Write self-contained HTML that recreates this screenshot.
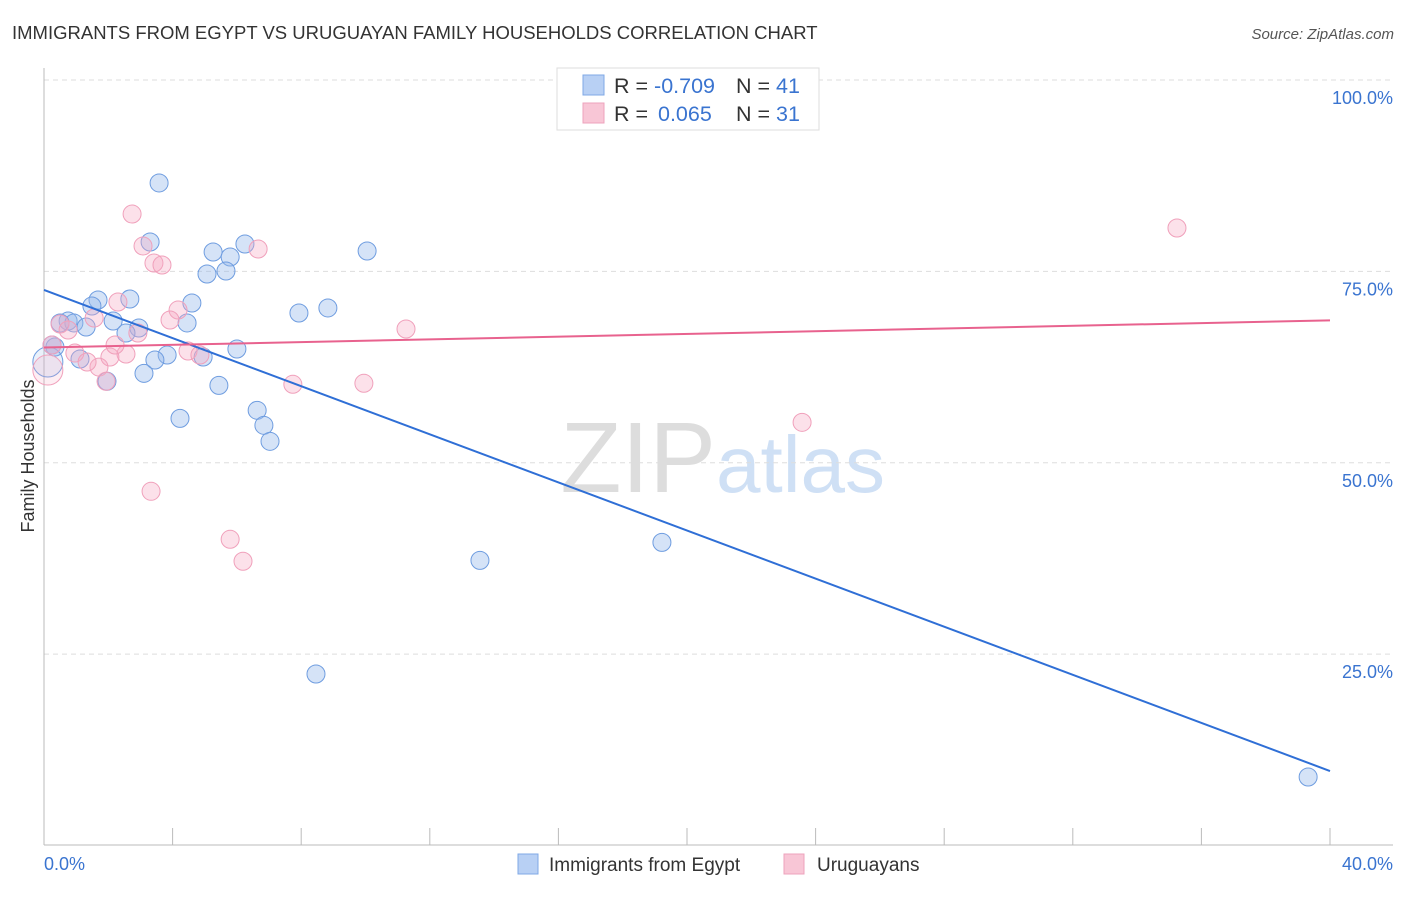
<!DOCTYPE html>
<html><head><meta charset="utf-8"><style>
body{margin:0;background:#fff;font-family:"Liberation Sans",sans-serif}
svg text{font-family:"Liberation Sans",sans-serif}
</style></head><body>
<svg id="c" width="1406" height="892">
<text x="12" y="39" font-size="18.5" fill="#333">IMMIGRANTS FROM EGYPT VS URUGUAYAN FAMILY HOUSEHOLDS CORRELATION CHART</text>
<text x="1394" y="39" font-size="15" fill="#555" text-anchor="end" font-style="italic">Source: ZipAtlas.com</text>
<text x="716" y="492" font-size="100" fill="#ddd" text-anchor="end" font-family="Liberation Serif">ZIP</text>
<text x="716" y="492" font-size="80" fill="#cfe0f5">atlas</text>
<g id="grid"></g><g id="axes"></g><g id="marks"></g><g id="trend"></g>
<text transform="translate(34,456) rotate(-90)" font-size="18" fill="#333" text-anchor="middle">Family Households</text>
<g>
<rect x="557" y="68" width="262" height="62" fill="#fff" stroke="#ddd"/>
<rect x="583" y="75" width="21" height="20" fill="#b8d0f4" stroke="#7fa8e6"/>
<rect x="583" y="103" width="21" height="20" fill="#f8c6d6" stroke="#eea3bc"/>
<text x="614" y="93" font-size="21.5" fill="#333">R = <tspan fill="#3a74d0">-0.709</tspan><tspan x="736">N = </tspan><tspan fill="#3a74d0">41</tspan></text>
<text x="614" y="121" font-size="21.5" fill="#333">R = <tspan x="658" fill="#3a74d0">0.065</tspan><tspan x="736">N = </tspan><tspan fill="#3a74d0">31</tspan></text>
</g>
<g>
<rect x="518" y="854" width="20" height="20" fill="#b8d0f4" stroke="#7fa8e6"/>
<text x="549" y="871" font-size="19" fill="#333">Immigrants from Egypt</text>
<rect x="784" y="854" width="20" height="20" fill="#f8c6d6" stroke="#eea3bc"/>
<text x="817" y="871" font-size="19" fill="#333">Uruguayans</text>
</g>
</svg>
<script>
const blueX=[3.58,3.30,5.26,6.25,5.79,5.07,5.66,10.05,1.68,2.67,1.49,4.60,7.93,8.83,0.75,0.93,2.15,4.45,1.31,2.95,2.55,0.34,1.12,4.95,3.83,3.45,6.00,3.11,1.96,5.44,4.23,6.63,6.84,7.03,13.56,19.22,8.46,39.32,0.12,0.50,0.25];
const blueY=[86.55,78.84,77.53,78.58,76.88,74.66,75.05,77.66,71.26,71.39,70.48,70.87,69.56,70.22,68.52,68.26,68.52,68.26,67.73,67.60,66.95,65.12,63.55,63.81,64.07,63.42,64.86,61.68,60.64,60.11,55.80,56.85,54.89,52.80,37.25,39.60,22.40,8.95,63.16,68.26,65.38];
const pinkX=[2.74,3.08,3.42,3.67,6.66,35.24,2.30,4.17,1.56,0.50,0.75,2.92,11.26,0.96,0.25,4.48,2.55,2.05,1.71,1.34,1.93,7.74,9.95,23.58,3.33,5.79,6.19,0.12,4.85,3.92,2.21];
const pinkY=[82.49,78.31,76.09,75.83,77.92,80.67,71.00,69.95,68.91,68.12,67.34,66.95,67.47,64.33,65.38,64.60,64.20,63.81,62.50,63.16,60.64,60.25,60.38,55.28,46.27,40.00,37.13,62.11,64.07,68.65,65.38];
const blueTrend=[72.57,9.73];
const pinkTrend=[65.05,68.6];
const yTicks=[25,50,75,100];
const xTickLabels=["0.0%","40.0%"];
const NS="http://www.w3.org/2000/svg";
const X=v=>44+v/40*1286, Y=v=>845.5-v/100*765.5;
function mk(p,t,a){const e=document.createElementNS(NS,t);for(const k in a)e.setAttribute(k,a[k]);document.getElementById(p).appendChild(e);return e;}
yTicks.forEach(t=>{
 const l=mk('grid','line',{x1:44,x2:1393,y1:Y(t),y2:Y(t),stroke:'#ddd','stroke-dasharray':'5,4'});
 
 
 const tx=mk('grid','text',{x:1393,y:Y(t)+24,'font-size':18,fill:'#3a74d0','text-anchor':'end'});
 tx.textContent=t.toFixed(1)+'%';
 
 
});
let a=mk('axes','line',{x1:44,x2:44,y1:68,y2:845,stroke:'#bbb'});


a=mk('axes','line',{x1:44,x2:1393,y1:845,y2:845,stroke:'#bbb'});


for(let i=0;i<=10;i++){const t=mk('axes','line',{x1:X(i*4),x2:X(i*4),y1:828,y2:845,stroke:'#bbb'});
 
 }
let xl=mk('axes','text',{x:44,y:870,'font-size':18,fill:'#3a74d0'});xl.textContent=xTickLabels[0];


xl=mk('axes','text',{x:1393,y:870,'font-size':18,fill:'#3a74d0','text-anchor':'end'});xl.textContent=xTickLabels[1];


function pts(xs,ys,fill,bigFill,stroke,name){xs.forEach((x,i)=>{const big=i===xs.length-(name==='egypt'?3:4);
 const c=mk('marks','circle',{cx:X(x),cy:Y(ys[i]),r:big?15:9,fill:big?bigFill:fill,stroke:stroke,'stroke-width':1});
 
 });}
pts(blueX,blueY,'rgba(150,185,235,0.4)','rgba(150,185,235,0.2)','#6f9de0','egypt');
pts(pinkX,pinkY,'rgba(245,170,195,0.35)','rgba(245,170,195,0.2)','#f0a0bb','uruguayans');
let t=mk('trend','line',{x1:X(0),y1:Y(blueTrend[0]),x2:X(40),y2:Y(blueTrend[1]),stroke:'#2f6fd6','stroke-width':2});


t=mk('trend','line',{x1:X(0),y1:Y(pinkTrend[0]),x2:X(40),y2:Y(pinkTrend[1]),stroke:'#e8628e','stroke-width':2});


</script>
</body></html>
